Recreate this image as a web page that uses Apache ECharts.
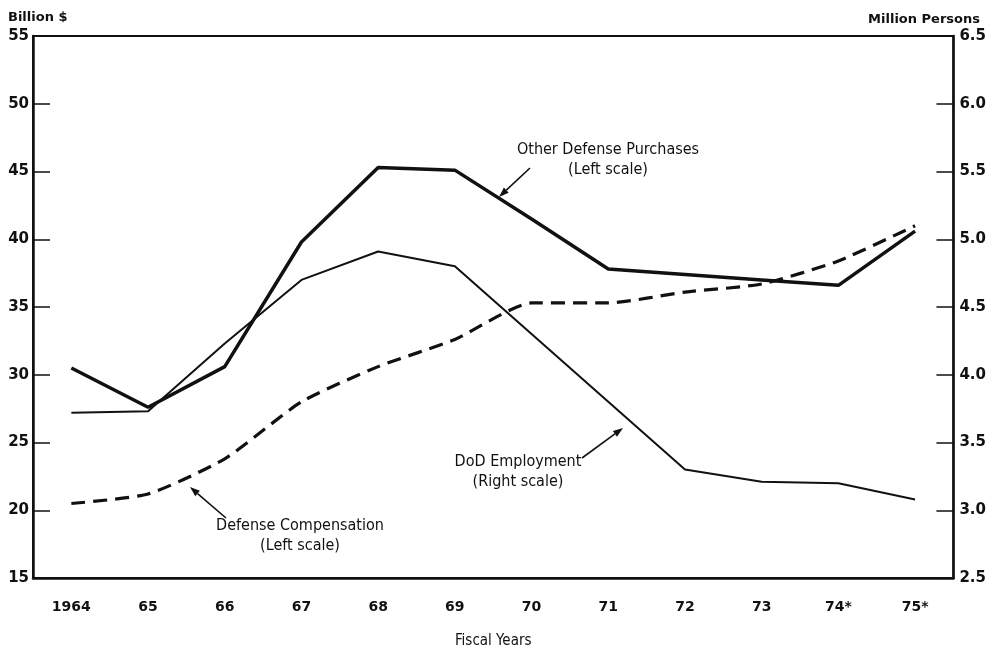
<!DOCTYPE html>
<html>
<head>
<meta charset="utf-8">
<script src="https://cdn.jsdelivr.net/npm/echarts@6/dist/echarts.min.js"></script>
<style>
  html, body { margin: 0; background: #fff; }
  #chart { width: 989px; height: 654px; }
</style>
</head>
<body>
<div id="chart"></div>
<script>
// fiscal years and the three series
const years = ['1964', '65', '66', '67', '68', '69', '70', '71', '72', '73', '74*', '75*']
const otherPurchases = [30.5, 27.6, 30.6, 39.8, 45.3, 45.1, 41.5, 37.8, 37.4, 37.0, 36.6, 40.6] // billion $, left
const compensation = [20.5, 21.2, 23.8, 28.0, 30.6, 32.6, 35.3, 35.3, 36.1, 36.7, 38.4, 41.0] // billion $, left
const employment = [3.72, 3.73, 4.23, 4.70, 4.91, 4.80, 4.30, 3.80, 3.30, 3.21, 3.20, 3.08] // million persons, right

const ink = '#111'
const numFont = 'DejaVu Sans'
const noteFont = '"Liberation Sans Narrow", "DejaVu Sans Condensed", sans-serif'

// annotation text + arrow (pixel positions of the callouts)
const notes = [
  { lines: ['Other Defense Purchases', '(Left scale)'], x: 608, y: 150, from: [530, 168], to: [499, 197] },
  { lines: ['DoD Employment', '(Right scale)'], x: 518, y: 462, from: [582, 458], to: [623, 428] },
  { lines: ['Defense Compensation', '(Left scale)'], x: 300, y: 526, from: [226, 518], to: [190, 487] }
]

function arrow (from, to) {
  const dx = to[0] - from[0]
  const dy = to[1] - from[1]
  const len = Math.sqrt(dx * dx + dy * dy)
  const ux = dx / len
  const uy = dy / len
  const bx = to[0] - ux * 10
  const by = to[1] - uy * 10
  return [
    { type: 'line', shape: { x1: from[0], y1: from[1], x2: bx, y2: by }, style: { stroke: ink, lineWidth: 1.6 } },
    {
      type: 'polygon',
      shape: { points: [to, [bx - uy * 3.5, by + ux * 3.5], [bx + uy * 3.5, by - ux * 3.5]] },
      style: { fill: ink }
    }
  ]
}

const graphics = [
  { type: 'text', left: 8, top: 11, style: { text: 'Billion $', font: 'bold 13px ' + numFont, fill: ink } },
  { type: 'text', right: 9, top: 13, style: { text: 'Million Persons', font: 'bold 13px ' + numFont, fill: ink } }
]
notes.forEach(n => {
  n.lines.forEach((t, i) => {
    graphics.push({
      type: 'text',
      x: n.x,
      y: n.y + i * 20,
      style: { text: t, font: '16px ' + noteFont, fill: ink, textAlign: 'center', textVerticalAlign: 'middle' }
    })
  })
  graphics.push(...arrow(n.from, n.to))
})

const chart = echarts.init(document.getElementById('chart'))
chart.setOption({
  backgroundColor: '#fff',
  animation: false,
  grid: { left: 33, right: 35, top: 36, bottom: 64, show: true, borderColor: ink, borderWidth: 2 },
  xAxis: {
    type: 'category',
    data: years,
    boundaryGap: true,
    name: 'Fiscal Years',
    nameLocation: 'middle',
    nameGap: 56,
    nameTextStyle: { fontFamily: noteFont, fontSize: 15, color: ink },
    axisLine: { lineStyle: { color: ink, width: 2.5 } },
    axisTick: { inside: true, length: 25, lineStyle: { color: ink, width: 1.5 } },
    axisLabel: { margin: 22, fontFamily: numFont, fontWeight: 'bold', fontSize: 14, color: ink },
    splitLine: { show: false }
  },
  yAxis: [
    {
      type: 'value',
      min: 15,
      max: 55,
      interval: 5,
      axisLine: { show: true, lineStyle: { color: ink, width: 2.5 } },
      axisTick: { show: true, inside: true, length: 17, lineStyle: { color: ink, width: 1.5 } },
      axisLabel: { margin: 4, fontFamily: numFont, fontWeight: 'bold', fontSize: 15, color: ink },
      splitLine: { show: false }
    },
    {
      type: 'value',
      min: 2.5,
      max: 6.5,
      interval: 0.5,
      position: 'right',
      axisLine: { show: true, lineStyle: { color: ink, width: 2.5 } },
      axisTick: { show: true, inside: true, length: 17, lineStyle: { color: ink, width: 1.5 } },
      axisLabel: { margin: 6, fontFamily: numFont, fontWeight: 'bold', fontSize: 15, color: ink, formatter: v => v.toFixed(1) },
      splitLine: { show: false }
    }
  ],
  series: [
    {
      name: 'Other Defense Purchases',
      type: 'line',
      yAxisIndex: 0,
      data: otherPurchases,
      symbol: 'none',
      lineStyle: { color: ink, width: 3.5 }
    },
    {
      name: 'Defense Compensation',
      type: 'line',
      yAxisIndex: 0,
      data: compensation,
      symbol: 'none',
      smooth: 0.2,
      lineStyle: { color: ink, width: 3.2, type: [14, 8] }
    },
    {
      name: 'DoD Employment',
      type: 'line',
      yAxisIndex: 1,
      data: employment,
      symbol: 'none',
      lineStyle: { color: ink, width: 2 }
    }
  ],
  graphic: graphics
})
</script>
</body>
</html>
